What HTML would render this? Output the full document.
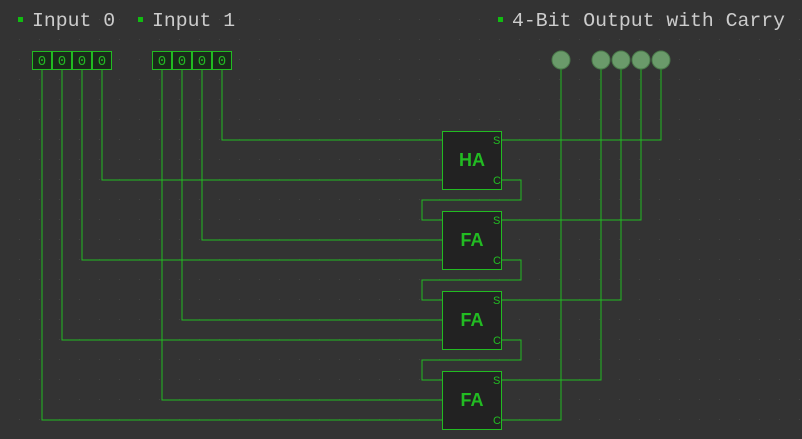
<!DOCTYPE html>
<html><head><style>
body{margin:0;background:#333;}
svg{display:block}
</style></head><body>
<svg width="802" height="439" xmlns="http://www.w3.org/2000/svg">
<defs><pattern id="g" width="20" height="20" patternUnits="userSpaceOnUse"><rect x="19" y="19" width="1.5" height="1.5" fill="#444"/></pattern></defs>
<rect width="802" height="439" fill="#333"/>
<rect width="802" height="439" fill="url(#g)"/>
<g font-family="Liberation Mono, monospace" font-size="19.8" fill="#ccc">
<rect x="18" y="17" width="5" height="5" fill="#1b1"/><text x="32" y="26">Input 0</text>
<rect x="138" y="17" width="5" height="5" fill="#1b1"/><text x="152" y="26">Input 1</text>
<rect x="498" y="17" width="5" height="5" fill="#1b1"/><text x="512" y="26">4-Bit Output with Carry</text>
</g>
<g fill="none" stroke="#2b2" stroke-width="1">
<path d="M222 69V140H442M502 140H661V69"/>
<path d="M102 69V180H442M502 180H521V200H422V220H442M502 220H641V69"/>
<path d="M202 69V240H442M82 69V260H442M502 260H521V280H422V300H442M502 300H621V69"/>
<path d="M182 69V320H442M62 69V340H442M502 340H521V360H422V380H442M502 380H601V69"/>
<path d="M162 69V400H442M42 69V420H442M502 420H561V69"/>
</g>
<g fill="#1a2a1a" stroke="#2b2">
<rect x="32.5" y="51.5" width="19" height="18"/><rect x="52.5" y="51.5" width="19" height="18"/><rect x="72.5" y="51.5" width="19" height="18"/><rect x="92.5" y="51.5" width="19" height="18"/>
<rect x="152.5" y="51.5" width="19" height="18"/><rect x="172.5" y="51.5" width="19" height="18"/><rect x="192.5" y="51.5" width="19" height="18"/><rect x="212.5" y="51.5" width="19" height="18"/>
</g>
<g font-family="Liberation Mono, monospace" font-size="14" fill="#2b2" text-anchor="middle">
<text x="42" y="65">0</text><text x="62" y="65">0</text><text x="82" y="65">0</text><text x="102" y="65">0</text>
<text x="162" y="65">0</text><text x="182" y="65">0</text><text x="202" y="65">0</text><text x="222" y="65">0</text>
</g>
<g fill="#6a9a6a" stroke="#4a7a4a">
<circle cx="561" cy="60" r="9"/><circle cx="601" cy="60" r="9"/><circle cx="621" cy="60" r="9"/><circle cx="641" cy="60" r="9"/><circle cx="661" cy="60" r="9"/>
</g>
<g fill="#222" stroke="#2b2">
<rect x="442.5" y="131.5" width="59" height="58"/>
<rect x="442.5" y="211.5" width="59" height="58"/>
<rect x="442.5" y="291.5" width="59" height="58"/>
<rect x="442.5" y="371.5" width="59" height="58"/>
</g>
<g font-family="Liberation Sans, sans-serif" fill="#2b2">
<g font-size="18" font-weight="bold" text-anchor="middle"><text x="472" y="166">HA</text><text x="472" y="246">FA</text><text x="472" y="326">FA</text><text x="472" y="406">FA</text></g>
<g font-size="11"><text x="493" y="144">S</text><text x="493" y="184">C</text><text x="493" y="224">S</text><text x="493" y="264">C</text><text x="493" y="304">S</text><text x="493" y="344">C</text><text x="493" y="384">S</text><text x="493" y="424">C</text></g>
</g>
</svg>
</body></html>
